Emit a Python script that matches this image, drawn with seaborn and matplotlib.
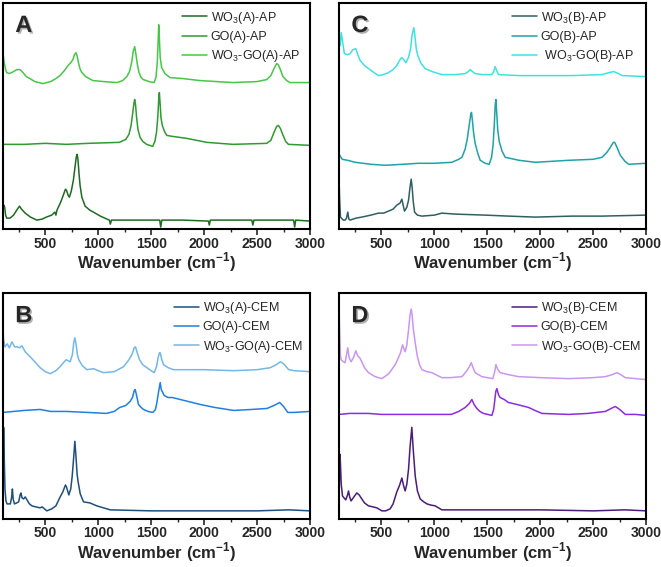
import matplotlib
matplotlib.use("Agg")
import matplotlib.pyplot as plt
import matplotlib.patheffects as pe
from matplotlib.ticker import MultipleLocator
import seaborn as sns
import pandas as pd

# Raman spectra (intensity in arbitrary units, curves stacked)

# --- Panel A: as-prepared, set A ---
a_wo3_x = [100, 108, 116, 125, 135, 167, 200, 230, 256, 275, 310, 360, 420, 470, 510, 560, 590,
           600, 610, 645, 670, 690, 700, 715, 727, 745, 765, 780, 792, 800, 808, 818, 828, 845,
           876, 920, 971, 1020, 1082, 1105, 1114, 1125, 1300, 1500, 1580, 1590, 1600, 1800,
           2040, 2049, 2058, 2300, 2450, 2460, 2470, 2700, 2845, 2855, 2865, 3000]
a_wo3_y = [21, 24, 22, 14, 11, 11, 14, 19, 23, 20, 16, 12, 9, 10, 12, 14, 17,
           14, 19, 27, 34, 40, 39, 34, 32, 38, 49, 62, 72, 75, 70, 56, 44, 32,
           23, 19, 16, 13, 10, 9, 5, 9, 9, 9, 9, 2, 9, 9,
           8, 4, 9, 9, 9, 4, 9, 9, 9, 2, 9, 8]
a_go_x = [100, 300, 500, 700, 900, 1200, 1260, 1290, 1310, 1325, 1338, 1344, 1352, 1362, 1375,
          1395, 1420, 1457, 1514, 1535, 1550, 1562, 1572, 1577, 1583, 1592, 1605, 1625, 1647,
          1700, 1836, 2025, 2273, 2591, 2630, 2660, 2685, 2701, 2720, 2742, 2770, 2796, 3000]
a_go_y = [85, 85, 86, 85, 86, 87, 90, 95, 104, 116, 127, 130, 125, 112, 100,
          92, 88, 85, 83, 88, 97, 112, 132, 137, 128, 112, 104, 98, 94,
          93, 91, 87, 85, 86, 89, 97, 103, 104, 101, 95, 88, 85, 84]
a_mix_x = [100, 110, 125, 135, 160, 200, 230, 260, 290, 320, 355, 400, 478, 550, 600, 638, 680,
           714, 740, 760, 775, 790, 800, 815, 830, 846, 880, 950, 1050, 1177, 1230, 1270, 1295,
           1315, 1330, 1344, 1355, 1368, 1385, 1405, 1426, 1480, 1527, 1545, 1558, 1566, 1571,
           1577, 1585, 1599, 1630, 1678, 1800, 1961, 2273, 2500, 2591, 2630, 2660, 2685, 2700,
           2720, 2745, 2780, 2811, 3000]
a_mix_y = [177, 168, 160, 157, 156, 158, 160, 160, 157, 153, 151, 148, 146, 148, 151, 154, 159,
           164, 167, 170, 175, 177, 174, 166, 160, 157, 153, 149, 148, 147, 149, 153, 158,
           167, 178, 183, 176, 166, 157, 152, 150, 148, 147, 152, 168, 190, 205,
           192, 172, 162, 156, 152, 151, 149, 147, 148, 150, 154, 161, 166, 165,
           160, 153, 149, 147, 147]

# --- Panel C: as-prepared, set B ---
c_wo3_x = [100, 105, 113, 140, 157, 170, 182, 192, 204, 260, 314, 400, 472, 520, 566, 610, 645,
           675, 693, 705, 718, 740, 756, 770, 781, 790, 800, 813, 840, 882, 1000, 1070, 1200,
           1480, 1700, 1953, 2300, 2583, 3000]
c_wo3_y = [49, 30, 12, 9, 9, 11, 17, 10, 9, 11, 12, 14, 16, 16, 18, 20, 24,
           26, 30, 24, 18, 22, 29, 42, 50, 42, 28, 17, 14, 13, 14, 16, 15,
           14, 13, 12, 13, 13, 14]
c_go_x = [100, 130, 180, 251, 400, 535, 700, 850, 1000, 1165, 1230, 1260, 1290, 1310, 1330,
          1345, 1351, 1358, 1370, 1385, 1410, 1433, 1480, 1518, 1540, 1555, 1566, 1575, 1581,
          1588, 1598, 1612, 1640, 1669, 1800, 1953, 2268, 2500, 2583, 2630, 2662, 2690, 2703,
          2725, 2756, 2800, 2835, 3000]
c_go_y = [75, 70, 69, 67, 65, 64, 65, 66, 66, 67, 70, 72, 80, 90, 105,
          116, 117, 110, 97, 86, 76, 69, 66, 65, 72, 85, 105, 125, 130,
          118, 100, 88, 78, 72, 69, 67, 69, 70, 72, 77, 82, 87, 87,
          82, 74, 68, 65, 66]
c_mix_x = [100, 110, 120, 130, 150, 180, 204, 230, 258, 280, 300, 340, 378, 430, 472, 520, 566,
           610, 645, 675, 693, 710, 731, 755, 775, 790, 806, 815, 830, 844, 870, 913, 980, 1070,
           1200, 1291, 1320, 1338, 1360, 1385, 1450, 1543, 1560, 1574, 1588, 1606, 1800, 1953,
           2300, 2583, 2650, 2694, 2740, 2772, 3000]
c_mix_y = [191, 184, 197, 190, 176, 175, 176, 180, 181, 174, 169, 164, 161, 157, 154, 155, 157,
           160, 164, 170, 172, 170, 167, 172, 181, 195, 202, 195, 180, 174, 167, 161, 158, 155,
           155, 156, 158, 160, 158, 156, 155, 155, 158, 163, 159, 155, 154, 154,
           154, 155, 157, 158, 156, 154, 153]

# --- Panel B: CEM, set A ---
b_wo3_x = [100, 103, 106, 110, 119, 128, 138, 170, 182, 189, 196, 208, 230, 248, 262, 270, 280,
           295, 310, 327, 350, 374, 410, 451, 470, 514, 560, 600, 640, 665, 690, 700, 722, 740,
           754, 768, 779, 788, 800, 810, 830, 861, 920, 987, 1050, 1114, 1500, 2000, 2500, 2800,
           3000]
b_wo3_y = [10, 60, 92, 70, 30, 18, 15, 15, 22, 30, 20, 15, 16, 17, 24, 26, 21,
           20, 22, 19, 15, 13, 12, 11, 12, 8, 10, 13, 22, 27, 34, 32, 24, 30,
           43, 62, 78, 65, 45, 37, 25, 17, 16, 13, 11, 9, 8, 8, 8, 9,
           8]
b_go_x = [100, 200, 300, 451, 550, 700, 900, 1077, 1150, 1203, 1260, 1300, 1323, 1340, 1349,
          1360, 1380, 1405, 1428, 1470, 1516, 1540, 1554, 1570, 1585, 1595, 1623, 1660, 1700,
          1775, 1850, 1964, 2100, 2279, 2450, 2594, 2660, 2714, 2750, 2790, 2850, 3000]
b_go_y = [107, 108, 109, 110, 108, 108, 107, 106, 108, 112, 114, 118, 122, 129, 130,
          125, 115, 112, 110, 108, 107, 110, 117, 128, 137, 130, 124, 122, 122,
          120, 118, 115, 112, 109, 110, 111, 114, 117, 113, 107, 107, 108]
b_mix_x = [100, 106, 119, 140, 160, 185, 210, 232, 255, 279, 310, 357, 400, 451, 500, 546, 600,
           640, 670, 697, 715, 735, 755, 770, 779, 790, 803, 816, 850, 892, 955, 1000, 1050,
           1150, 1239, 1290, 1317, 1340, 1352, 1365, 1390, 1420, 1459, 1500, 1529, 1550, 1565,
           1578, 1585, 1600, 1617, 1660, 1711, 2000, 2279, 2500, 2625, 2680, 2720, 2750, 2799,
           2850, 3000]
b_mix_y = [191, 180, 173, 176, 172, 178, 173, 173, 172, 174, 168, 163, 158, 152, 148, 146, 149,
           153, 157, 160, 159, 158, 165, 178, 182, 176, 165, 160, 154, 150, 151, 149, 147,
           148, 153, 160, 165, 172, 173, 168, 160, 155, 152, 149, 147, 153, 162,
           167, 167, 160, 155, 152, 150, 150, 149, 150, 152, 155, 158, 156, 150,
           149, 148]

# --- Panel D: CEM, set B ---
d_wo3_x = [100, 104, 108, 113, 120, 132, 163, 180, 189, 200, 213, 240, 267, 290, 314, 340, 378,
           420, 457, 504, 540, 582, 610, 645, 672, 693, 710, 724, 740, 756, 770, 787, 800, 819,
           840, 866, 900, 930, 960, 1007, 1040, 1070, 1500, 2000, 2500, 2800, 3000]
d_wo3_y = [23, 45, 65, 55, 35, 23, 19, 24, 28, 22, 18, 22, 26, 24, 20, 16, 13,
           12, 11, 8, 8, 10, 15, 27, 34, 41, 33, 28, 35, 50, 72, 92, 70, 43,
           28, 20, 17, 15, 14, 13, 11, 9, 9, 9, 8, 9, 8]
d_go_x = [100, 200, 378, 500, 693, 900, 1160, 1230, 1291, 1330, 1354, 1375, 1401, 1430, 1464,
          1543, 1560, 1568, 1580, 1590, 1605, 1621, 1660, 1700, 1780, 1890, 1950, 2016, 2268,
          2450, 2615, 2670, 2709, 2750, 2803, 2900, 3000]
d_go_y = [105, 106, 106, 105, 105, 105, 105, 108, 112, 116, 120, 115, 111, 108, 106,
          104, 110, 117, 128, 131, 125, 122, 120, 117, 115, 112, 109, 106, 105,
          106, 108, 111, 113, 110, 105, 105, 104]
d_mix_x = [100, 105, 112, 119, 140, 157, 170, 182, 195, 213, 235, 258, 275, 295, 314, 340, 378,
           440, 504, 570, 630, 660, 680, 699, 712, 724, 740, 756, 770, 781, 790, 800, 819, 840,
           860, 882, 930, 976, 1070, 1150, 1260, 1300, 1330, 1348, 1365, 1385, 1448, 1552, 1570,
           1581, 1600, 1621, 1700, 1795, 2000, 2268, 2500, 2615, 2680, 2725, 2760, 2803, 3000]
d_mix_y = [210, 190, 165, 160, 158, 157, 165, 172, 162, 158, 162, 169, 164, 162, 158, 152, 147,
           143, 141, 146, 155, 162, 167, 175, 171, 168, 175, 190, 205, 211, 205, 192, 177, 163,
           155, 150, 148, 147, 142, 142, 143, 148, 153, 157, 152, 147, 143, 141, 148,
           155, 150, 147, 145, 143, 142, 141, 142, 143, 145, 147, 145, 142, 140]

panels = [
    ("A", [0.0045, 0.596, 0.4645, 0.399], 0.56,
     [(a_wo3_x, a_wo3_y, "WO$_3$(A)-AP", "#1f6b22"),
      (a_go_x, a_go_y, "GO(A)-AP", "#2f9a2f"),
      (a_mix_x, a_mix_y, "WO$_3$-GO(A)-AP", "#45c845")]),
    ("C", [0.513, 0.596, 0.4645, 0.399], 0.54,
     [(c_wo3_x, c_wo3_y, "WO$_3$(B)-AP", "#2f5f62"),
      (c_go_x, c_go_y, "GO(B)-AP", "#1ea3a8"),
      (c_mix_x, c_mix_y, " WO$_3$-GO(B)-AP", "#3ee3e0")]),
    ("B", [0.0045, 0.085, 0.4645, 0.398], 0.535,
     [(b_wo3_x, b_wo3_y, "WO$_3$(A)-CEM", "#1e4f7e"),
      (b_go_x, b_go_y, "GO(A)-CEM", "#1f80e0"),
      (b_mix_x, b_mix_y, "WO$_3$-GO(A)-CEM", "#72b8ea")]),
    ("D", [0.513, 0.085, 0.4645, 0.398], 0.54,
     [(d_wo3_x, d_wo3_y, "WO$_3$(B)-CEM", "#4a1d7a"),
      (d_go_x, d_go_y, "GO(B)-CEM", "#8b2be2"),
      (d_mix_x, d_mix_y, "WO$_3$-GO(B)-CEM", "#c996f2")]),
]

sns.set_style("ticks")
plt.rcParams["font.family"] = ["Liberation Sans", "DejaVu Sans"]
plt.rcParams["mathtext.fontset"] = "custom"
plt.rcParams["mathtext.rm"] = "Liberation Sans"
plt.rcParams["mathtext.bf"] = "Liberation Sans:bold"

fig = plt.figure(figsize=(6.61, 5.67), dpi=100)

for letter, pos, leg_x, series in panels:
    ax = fig.add_axes(pos)
    for x, y, label, color in series:
        df = pd.DataFrame({"w": x, "i": y})
        sns.lineplot(data=df, x="w", y="i", ax=ax, color=color, lw=1.1, label=label)
    ax.set_xlim(100, 3000)
    ax.set_ylim(0, 227)
    ax.set_yticks([])
    ax.set_ylabel("")
    ax.set_xticks([500, 1000, 1500, 2000, 2500, 3000])
    ax.xaxis.set_minor_locator(MultipleLocator(250))
    ax.tick_params(axis="x", which="major", length=4, width=1.2, labelsize=10, pad=1.5)
    ax.tick_params(axis="x", which="minor", length=2.5, width=1.0)
    for lab in ax.get_xticklabels():
        lab.set_fontweight("bold")
    for sp in ax.spines.values():
        sp.set_visible(True)
        sp.set_linewidth(1.5)
        sp.set_color("black")
    ax.set_xlabel("Wavenumber (cm$^{\\mathbf{-1}}$)", fontsize=12, fontweight="bold", labelpad=0)
    ax.legend(loc="upper left", bbox_to_anchor=(leg_x, 1.0), frameon=False, fontsize=9,
              handlelength=2.0, handletextpad=0.3, labelspacing=0.42, borderaxespad=0.15)
    ax.text(0.04, 0.9, letter, transform=ax.transAxes, fontsize=17, fontweight="bold",
            va="center", ha="left",
            path_effects=[pe.withSimplePatchShadow(offset=(1.2, -1.2), shadow_rgbFace="gray", alpha=0.6)])

fig.savefig("out.png", dpi=100)
